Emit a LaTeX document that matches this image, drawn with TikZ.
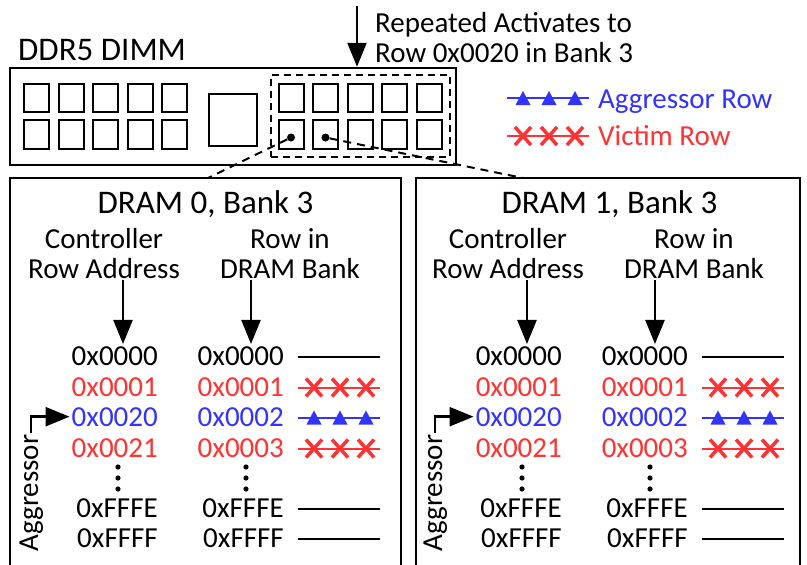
\documentclass[tikz,border=0pt]{standalone}
\usepackage{fontspec}
\setmainfont{Carlito}
\usetikzlibrary{arrows.meta}
\definecolor{vicred}{RGB}{255,51,51}
\definecolor{aggblue}{RGB}{51,51,255}

\tikzset{
  victim/.pic={
    \draw[vicred, line width=2pt] (0,0) -- (82,0);
    \foreach \m in {16,42,68}
      \draw[vicred, line width=3.5pt] (\m-8,-9) -- (\m+8,9) (\m-8,9) -- (\m+8,-9);
  },
  aggrrow/.pic={
    \draw[aggblue, line width=2pt] (0,0) -- (82,0);
    \foreach \m in {16,42,68}
      \fill[aggblue] (\m-7.5,7) -- (\m+7.5,7) -- (\m,-7) -- cycle;
  },
  plainrow/.pic={\draw[line width=2pt] (0,0) -- (82,0);}
}

\begin{document}
\begin{tikzpicture}[
  x=1pt, y=-1pt,
  txt/.style={font=\fontsize{29}{30}\selectfont, inner sep=2pt},
  titletxt/.style={font=\fontsize{33}{34}\selectfont, inner sep=2pt},
  chip/.style={draw, line width=2pt, minimum width=25pt, minimum height=28.5pt, inner sep=0pt},
  box/.style={draw, line width=2.5pt, inner sep=0pt},
  dashbox/.style={draw, line width=2pt, dash pattern=on 7pt off 5pt, inner sep=0pt},
  zoomline/.style={line width=2pt, dash pattern=on 8pt off 6pt},
  dot/.style={circle, fill, inner sep=0pt, minimum size=8pt},
  arrow/.style={-{Triangle[length=24pt,width=19pt]}, line width=2.5pt}
]
\useasboundingbox (0,0) rectangle (807,565);
\clip (0,0) rectangle (807,565);

% DIMM with its chips
\node[box, minimum width=446pt, minimum height=97pt] (dimm) at (233,116.5) {};
\foreach \c in {0,...,4}
  \foreach \r in {0,1} {
    \node[chip] (cL\c\r) at (36.5+34.5*\c, 98+36.5*\r) {};
    \node[chip] (cR\c\r) at (291+34.5*\c, 98+36.5*\r) {};
  }
\node[chip, minimum width=48pt, minimum height=52pt] (buf) at (233,120) {};
\node[dashbox, minimum width=179pt, minimum height=82pt] (sel) at (360.5,116) {};
\node[titletxt, anchor=base west] (dimmlbl) at (16,60) {DDR5 DIMM};

% Activates arrow
\node[txt, anchor=base west, align=left] (act) at (373,62) {Repeated Activates to\\Row 0x0020 in Bank 3};
\coordinate (acttop) at (357,6);
\draw[arrow] (acttop) -- (acttop |- dimm.north);

% Legend
\pic at (507,98) {aggrrow};
\node[txt, text=aggblue, anchor=base west] (lgagg) at (596,108) {Aggressor Row};
\pic at (507,136) {victim};
\node[txt, text=vicred, anchor=base west] (lgvic) at (596,145) {Victim Row};

% Selected chips and the two panels
\node[dot] (dot0) at ([yshift=-3pt]cR01.center) {};
\node[dot] (dot1) at ([yshift=-3pt]cR11.center) {};
\draw[line width=2.5pt] (10,575) |- (401,178) -- (401,575);
\draw[line width=2.5pt] (416,575) |- (800,178) -- (800,575);
\coordinate (top0) at (208,178);
\coordinate (top1) at (523,178);
\draw[zoomline] (dot0) -- (top0);
\draw[zoomline] (dot1) -- (top1);

% Panel contents
\foreach \dn/\ox in {0/0,1/404} {
  \begin{scope}[xshift=\ox pt]
    \node[titletxt, anchor=base] (dram\dn) at (205.5,213) {DRAM \dn, Bank 3};
    \node[txt, anchor=base, align=center] (ctl\dn) at (104,278) {Controller\\Row Address};
    \node[txt, anchor=base, align=center] (bank\dn) at (290,278) {Row in\\DRAM Bank};
    \foreach \rw/\ta/\tb/\col/\mk/\yb in {0/0x0000/0x0000/black/plainrow/365,
        1/0x0001/0x0001/vicred/victim/396, 2/0x0020/0x0002/aggblue/aggrrow/426,
        3/0x0021/0x0003/vicred/victim/457, 4/0xFFFE/0xFFFE/black/plainrow/517,
        5/0xFFFF/0xFFFF/black/plainrow/547} {
      \node[txt, text=\col, anchor=base east] (ra\dn\rw) at (160,\yb) {\ta};
      \node[txt, text=\col, anchor=base east] (rb\dn\rw) at (286,\yb) {\tb};
      \pic at (298,\yb-8.5) {\mk};
    }
    \foreach \yy in {467,478,489} {
      \fill (118,\yy) circle (2.6pt);
      \fill (246,\yy) circle (2.6pt);
    }
    \draw[arrow] (123,0 |- ctl\dn.south) -- (123,0 |- ra\dn0.north);
    \draw[arrow] (251,0 |- bank\dn.south) -- (251,0 |- rb\dn0.north);
    \node[txt, anchor=base, rotate=90] (aggr\dn) at (38,493) {Aggressor};
    \draw[arrow] (aggr\dn.east) |- (ra\dn2.west);
  \end{scope}
}
\end{tikzpicture}
\end{document}
